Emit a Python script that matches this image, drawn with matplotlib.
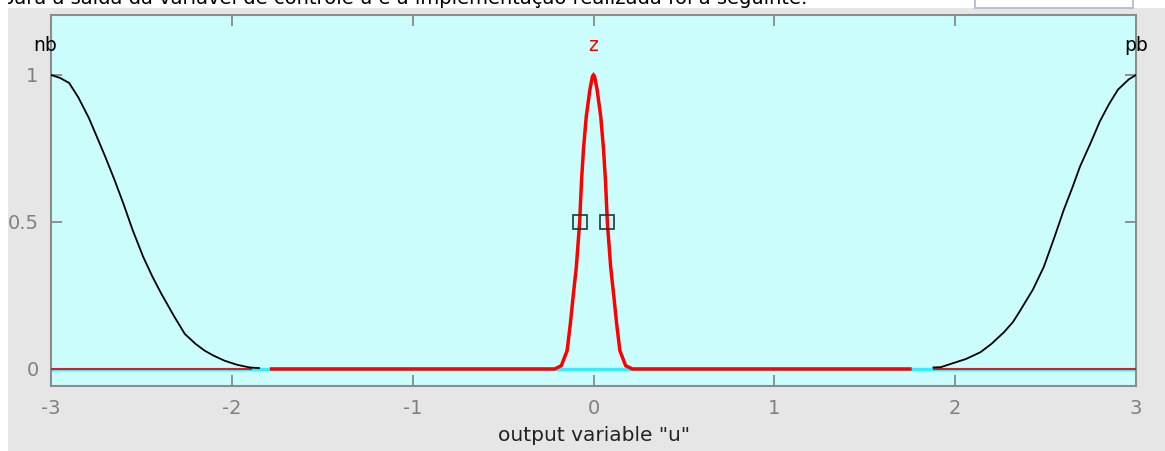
import matplotlib.pyplot as plt
from matplotlib.patches import Rectangle

plt.rcParams['axes.unicode_minus'] = False

# membership functions of the output variable "u"
nb_x = [-3.0, -2.95, -2.90, -2.85, -2.79, -2.75, -2.70, -2.65, -2.60, -2.55, -2.49, -2.44,
        -2.39, -2.32, -2.26, -2.20, -2.15, -2.10, -2.04, -1.97, -1.90, -1.85]
nb_y = [1.0, 0.99, 0.973, 0.925, 0.853, 0.795, 0.722, 0.645, 0.563, 0.475, 0.381, 0.315,
        0.256, 0.18, 0.119, 0.085, 0.062, 0.045, 0.028, 0.014, 0.005, 0.003]

pb_x = [1.88, 1.92, 1.98, 2.06, 2.14, 2.20, 2.27, 2.32, 2.36, 2.43, 2.49, 2.55, 2.60,
        2.65, 2.69, 2.75, 2.80, 2.85, 2.90, 2.96, 3.0]
pb_y = [0.005, 0.006, 0.018, 0.034, 0.057, 0.085, 0.125, 0.16, 0.199, 0.27, 0.347, 0.45, 0.540,
        0.62, 0.688, 0.77, 0.842, 0.90, 0.950, 0.985, 1.0]

z_x = [-1.78, -0.215, -0.178, -0.146, -0.128, -0.113, -0.095, -0.077, -0.066, -0.055, -0.040,
       -0.020, -0.006, 0.0, 0.006, 0.020, 0.040, 0.055, 0.066, 0.077, 0.095, 0.113, 0.128,
       0.146, 0.178, 0.215, 1.75]
z_y = [0.0, 0.0, 0.011, 0.062, 0.154, 0.244, 0.347, 0.495, 0.643, 0.751, 0.859,
       0.95, 0.995, 1.0, 0.995, 0.95, 0.859, 0.751, 0.643, 0.495, 0.347, 0.244, 0.154,
       0.062, 0.011, 0.0, 0.0]

handle_x = [-0.072, 0.072]
handle_y = [0.5, 0.5]

labels = ['nb', 'z', 'pb']
label_x = [-3.03, 0.0, 3.0]
label_colors = ['black', 'red', 'black']

xticks = [-3, -2, -1, 0, 1, 2, 3]
yticks = [0, 0.5, 1]

fig = plt.figure(figsize=(11.65, 4.51), dpi=100)
fig.patch.set_facecolor('white')

# grey window panel behind the axes
fig.add_artist(Rectangle((8 / 1165, 0), 1, 1 - 8 / 451, transform=fig.transFigure,
                         facecolor='#e6e6e6', edgecolor='none', zorder=-10))

# cut-off text of the document above the screenshot (only its lower part shows)
fig.text(2 / 1165, 1 - 4 / 451,
         'para a saída da variável de controle u e a implementação realizada foi a seguinte:',
         fontsize=14, color='black', va='baseline', ha='left')
fig.add_artist(Rectangle((975 / 1165, 1 - 8 / 451), 158 / 1165, 12 / 451, transform=fig.transFigure,
                         facecolor='white', edgecolor='#a8b8d0', lw=1.2, zorder=5))

ax = fig.add_axes([51 / 1165, 65 / 451, 1085 / 1165, 371 / 451])
ax.set_facecolor('#ccfdfd')

# baseline pieces
ax.plot([-3, 3], [0, 0], color='#33eeff', lw=2.4, zorder=2, solid_capstyle='butt')
ax.plot([-3, -1.89], [0, 0], color='red', lw=1.3, zorder=3, solid_capstyle='butt')
ax.plot([1.88, 3], [0, 0], color='red', lw=1.3, zorder=3, solid_capstyle='butt')

ax.plot(nb_x, nb_y, color='black', lw=1.3, zorder=4)
ax.plot(pb_x, pb_y, color='black', lw=1.3, zorder=4)
ax.plot(z_x, z_y, color='red', lw=2.5, zorder=5, solid_joinstyle='miter')
ax.plot(handle_x, handle_y, ls='none', marker='s', ms=10, mfc='none',
        mec='#1c3a3a', mew=1.2, zorder=6)

for lab, lx, lc in zip(labels, label_x, label_colors):
    ax.text(lx, 1.10, lab, color=lc, fontsize=13.5, ha='center', va='center')

ax.set_xlim(-3, 3)
ax.set_ylim(-0.058, 1.204)
ax.set_xticks(xticks)
ax.set_yticks(yticks)
ax.set_yticklabels(['0', '0.5', '1'])
ax.tick_params(direction='in', length=8, width=1.2, color='#808080', labelcolor='#808080',
               labelsize=14, top=True, right=True)
ax.tick_params(axis='x', pad=9)
ax.tick_params(axis='y', pad=9)
for sp in ax.spines.values():
    sp.set_color('#8c8c8c')
    sp.set_linewidth(1.5)

ax.set_xlabel('output variable "u"', fontsize=14.5, color='#222222', labelpad=6)

# white strip at the far left hides the start of the "0.5" label
fig.add_artist(Rectangle((0, 0), 8 / 1165, 1, transform=fig.transFigure,
                         facecolor='white', edgecolor='none', zorder=20))

fig.savefig('out.png', dpi=100)
